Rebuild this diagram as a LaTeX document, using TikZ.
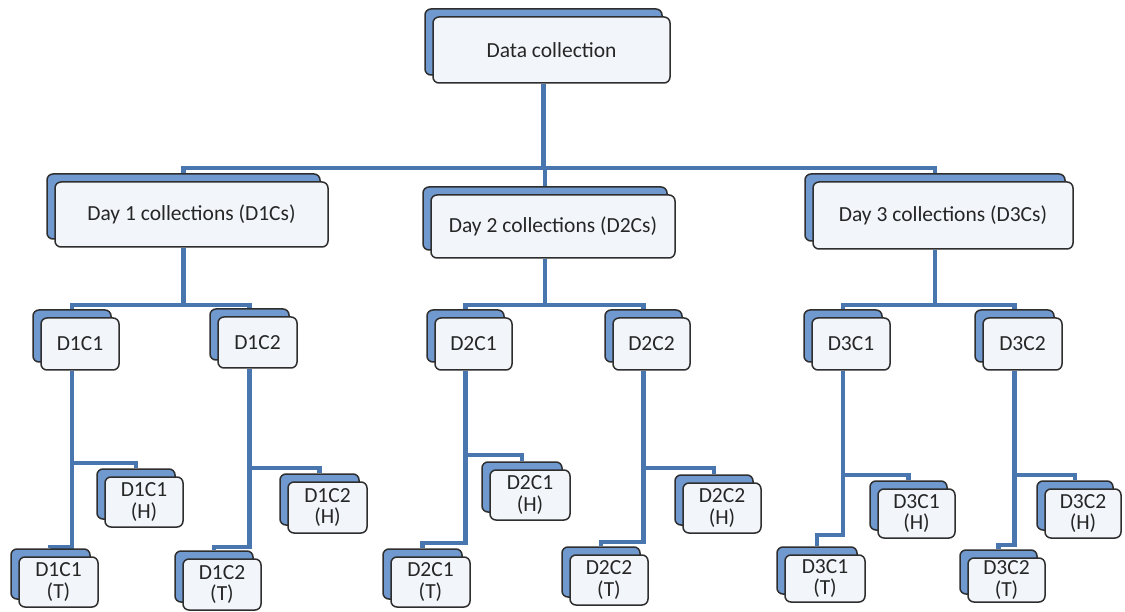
\documentclass[tikz,border=0pt]{standalone}
\usepackage{fontspec}
\setmainfont{Carlito}
\usetikzlibrary{backgrounds,calc}
\definecolor{conncol}{HTML}{4A76B0}
\definecolor{backcol}{HTML}{7099CF}
\definecolor{frontcol}{HTML}{F2F6FB}
\definecolor{edgecol}{HTML}{2E2E2E}
\definecolor{txtcol}{HTML}{262626}
\tikzset{
  frontbox/.style={draw=edgecol, line width=1.5pt, fill=frontcol, rounded corners=6pt,
    inner sep=0pt, text=txtcol, font=\fontsize{21.5}{21.5}\selectfont, align=center},
  backbox/.style={draw=edgecol, line width=1.5pt, fill=backcol, rounded corners=6pt, inner sep=0pt},
  conn/.style={draw=conncol, line width=4.2pt},
}
\newcommand\stackbox[6]{%
  \node[backbox, minimum width={(#4-#2)*1pt}, minimum height={(#5-#3)*1pt}]
    (#1-b) at ({(#2+#4)/2-8},{(#3+#5)/2-8}) {};
  \node[frontbox, minimum width={(#4-#2)*1pt}, minimum height={(#5-#3)*1pt}]
    (#1) at ({(#2+#4)/2},{(#3+#5)/2}) {#6};
}
\newcommand\branch[3]{% parent, child, bus y
  \draw[conn] (#1-b.south |- #1.south) -- (#1-b.south |- 0,#3) -| (#2-b.north);
}
\begin{document}
\begin{tikzpicture}[x=1pt,y=-1pt]
\useasboundingbox (0,0) rectangle (1125,612);
% level 0
\stackbox{top}{433}{17}{670}{83}{Data collection}
% level 1
\stackbox{d1}{55}{182}{328}{247}{Day 1 collections (D1Cs)}
\stackbox{d2}{431}{195}{675}{258}{Day 2 collections (D2Cs)}
\stackbox{d3}{813}{182}{1073}{249}{Day 3 collections (D3Cs)}
% level 2
\stackbox{c11}{41}{318}{119}{370}{D1C1}
\stackbox{c12}{218}{317}{297}{368}{D1C2}
\stackbox{c21}{435}{318}{512}{370}{D2C1}
\stackbox{c22}{613}{318}{690}{370}{D2C2}
\stackbox{c31}{812}{318}{890}{370}{D3C1}
\stackbox{c32}{983}{318}{1062}{370}{D3C2}
% level 3 (H)
\stackbox{h11}{105}{477}{183}{527}{D1C1\\(H)}
\stackbox{h12}{288}{482}{367}{533}{D1C2\\(H)}
\stackbox{h21}{490}{470}{570}{520}{D2C1\\(H)}
\stackbox{h22}{683}{483}{761}{533}{D2C2\\(H)}
\stackbox{h31}{878}{489}{955}{538}{D3C1\\(H)}
\stackbox{h32}{1045}{489}{1121}{538}{D3C2\\(H)}
% level 3 (T)
\stackbox{t11}{19}{557}{98}{607}{D1C1\\(T)}
\stackbox{t12}{183}{559}{261}{610}{D1C2\\(T)}
\stackbox{t21}{391}{557}{470}{607}{D2C1\\(T)}
\stackbox{t22}{570}{555}{648}{605}{D2C2\\(T)}
\stackbox{t31}{785}{555}{865}{602}{D3C1\\(T)}
\stackbox{t32}{968}{558}{1045}{602}{D3C2\\(T)}
\begin{scope}[on background layer]
\fill[white] (0,0) rectangle (1125,612);
\branch{top}{d1}{168}
\branch{top}{d2}{168}
\branch{top}{d3}{168}
\branch{d1}{c11}{305}
\branch{d1}{c12}{305}
\branch{d2}{c21}{305}
\branch{d2}{c22}{305}
\branch{d3}{c31}{305}
\branch{d3}{c32}{305}
\branch{c11}{h11}{463}
\branch{c11}{t11}{547}
\branch{c12}{h12}{468}
\branch{c12}{t12}{547}
\branch{c21}{h21}{455}
\branch{c21}{t21}{543}
\branch{c22}{h22}{468}
\branch{c22}{t22}{542}
\branch{c31}{h31}{475}
\branch{c31}{t31}{535}
\branch{c32}{h32}{475}
\branch{c32}{t32}{545}
\end{scope}
\end{tikzpicture}
\end{document}
